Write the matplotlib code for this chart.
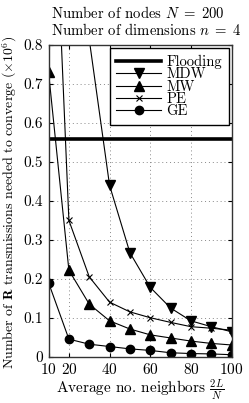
import numpy as np
import matplotlib
matplotlib.use("Agg")
import matplotlib.pyplot as plt

# Data (values in millions of transmissions)
neighbors = [10, 20, 30, 40, 50, 60, 70, 80, 90, 100]
flooding = 0.56
mdw = [4.0, 2.2, 0.815, 0.44, 0.267, 0.178, 0.125, 0.092, 0.077, 0.064]
mw = [0.73, 0.222, 0.135, 0.092, 0.071, 0.056, 0.048, 0.040, 0.034, 0.030]
pe = [1.58, 0.35, 0.205, 0.14, 0.115, 0.10, 0.088, 0.077, 0.073, 0.068]
ge = [0.19, 0.045, 0.032, 0.026, 0.020, 0.016, 0.010, 0.008, 0.007, 0.005]

xticks = [10, 20, 40, 60, 80, 100]
yticks = [0, 0.1, 0.2, 0.3, 0.4, 0.5, 0.6, 0.7, 0.8]
ytick_labels = ["0", "0.1", "0.2", "0.3", "0.4", "0.5", "0.6", "0.7", "0.8"]

plt.rcParams["font.family"] = "cmr10"
plt.rcParams["mathtext.fontset"] = "cm"
plt.rcParams["axes.unicode_minus"] = False
plt.rcParams["axes.formatter.use_mathtext"] = True

fig = plt.figure(figsize=(2.49, 4.03), dpi=100)
ax = fig.add_axes([0.195, 0.115, 0.735, 0.773])

ax.axhline(flooding, color="black", lw=2.6, label="Flooding")
ax.plot(neighbors, mdw, color="black", lw=0.8, marker="v", ms=7, label="MDW")
ax.plot(neighbors, mw, color="black", lw=0.8, marker="^", ms=7, label="MW")
ax.plot(neighbors, pe, color="black", lw=0.8, marker="x", ms=4, mew=0.8, label="PE")
ax.plot(neighbors, ge, color="black", lw=0.8, marker="o", ms=6, label="GE")

ax.set_xlim(10, 100)
ax.set_ylim(0, 0.8)
ax.set_xticks(xticks)
ax.set_yticks(yticks)
ax.set_yticklabels(ytick_labels)
ax.tick_params(direction="in", top=True, right=True, labelsize=11, length=3, pad=4)
ax.grid(True, color="#888888", ls=(0, (1, 3)), lw=0.7)

for s in ax.spines.values():
    s.set_color("#333333")
    s.set_linewidth(1.0)

# two-line title, left aligned with the axes
fig.text(0.205, 0.955, r"Number of nodes $N\;=\;200$", fontsize=10.6, ha="left", va="baseline")
fig.text(0.205, 0.912, r"Number of dimensions $n\;=\;4$", fontsize=10.6, ha="left", va="baseline")
ax.set_xlabel(r"Average no. neighbors $\frac{2L}{N}$", fontsize=11, labelpad=0)
ax.set_ylabel(r"Number of $\mathbf{R}$ transmissions needed to converge $(\times 10^6)$",
              fontsize=10)
ax.yaxis.set_label_coords(-0.16, 0.496)

leg = ax.legend(loc="upper right", fontsize=10.5, frameon=True, fancybox=False,
                edgecolor="black", framealpha=1, handlelength=3.1,
                labelspacing=-0.09, borderpad=0.45, handletextpad=0.35,
                borderaxespad=0.2)
leg.get_frame().set_linewidth(1.0)

fig.savefig("out.png", dpi=100)
